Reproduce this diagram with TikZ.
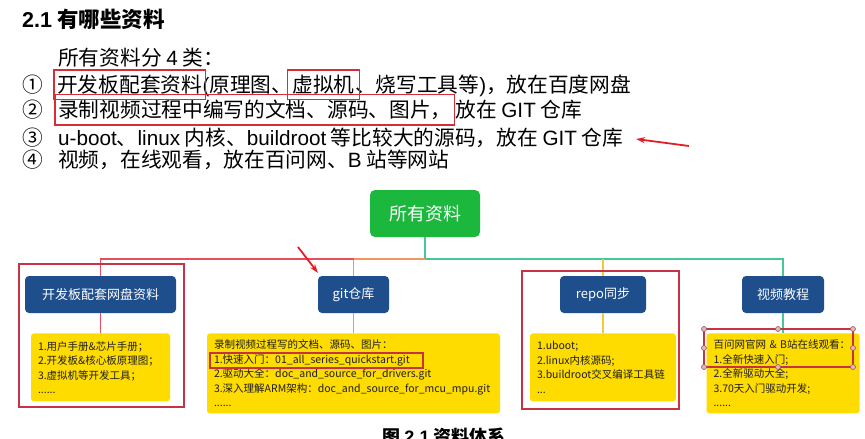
\documentclass[tikz,border=0pt]{standalone}
\usepackage{fontspec}
\setmainfont{Noto Sans CJK SC}
\newfontfamily\latin{Liberation Sans}
\usepackage{xcolor}
\usepackage{tikz}
\usetikzlibrary{positioning, arrows.meta, fit}

\definecolor{rootgreen}{RGB}{28,184,62}
\definecolor{nodeblue}{RGB}{30,78,140}
\definecolor{noteyellow}{RGB}{255,220,0}
\definecolor{markred}{RGB}{215,45,55}
\definecolor{framered}{RGB}{200,50,70}
\definecolor{pointred}{RGB}{225,30,40}
\definecolor{brred}{RGB}{232,78,92}
\definecolor{brorange}{RGB}{242,150,95}
\definecolor{bryellow}{RGB}{245,200,60}
\definecolor{brteal}{RGB}{70,200,150}
\definecolor{textgray}{RGB}{30,30,30}
\definecolor{handlered}{RGB}{160,80,90}
\definecolor{handlefill}{RGB}{225,185,185}

\begin{document}
\begin{tikzpicture}[x=1pt,y=-1pt,
    bodytext/.style={anchor=base west,inner sep=0pt,font=\fontsize{20.7}{24}\selectfont},
    markbox/.style={draw=markred,line width=1.2pt,inner xsep=3pt,inner ysep=5pt},
    rootbox/.style={rectangle,rounded corners=5pt,fill=rootgreen,text=white,minimum width=110pt,minimum height=47pt,font=\fontsize{18}{18}\selectfont},
    topic/.style={rectangle,rounded corners=4pt,fill=nodeblue,text=white,minimum height=37pt,font=\fontsize{13}{13}\selectfont},
    note/.style={rectangle,rounded corners=3pt,fill=noteyellow,text=textgray,align=left,inner xsep=7pt,inner ysep=0pt,font=\fontsize{10.5}{14.5}\selectfont},
    link/.style={line width=1.6pt},
    frame/.style={draw=framered,line width=1.2pt},
    pointer/.style={draw=pointred,line width=1.8pt,-{Stealth[length=9pt,width=6pt]}},
    handle/.style={draw=handlered,fill=handlefill,line width=0.6pt}]
    \path[use as bounding box,fill=white] (0,0) rectangle (865,439);

    \node[anchor=west,inner sep=0pt,font=\bfseries\fontsize{21.5}{21.5}\selectfont] (title) at (22,19) {{\latin\bfseries 2.1} 有哪些资料};

    \node[bodytext] (intro) at (58,65.6) {所有资料分 {\latin 4} 类：};

    \node[bodytext] (c1) at (22,92.6) {①};
    \node[bodytext] (l1a) at (57,92.6) {开发板配套资料};
    \node[bodytext] (l1b) at (l1a.base east) {{\latin (}原理图、};
    \node[bodytext] (l1c) at (l1b.base east) {虚拟机};
    \node[bodytext] (l1d) at (l1c.base east) {、烧写工具等{\latin )}，放在百度网盘};

    \node[bodytext] (c2) at (22,117.6) {②};
    \node[bodytext] (l2a) at (58,117.6) {录制视频过程中编写的文档、源码、图片，};
    \node[bodytext] (l2b) at (l2a.base east) {\,放在 {\latin GIT} 仓库};

    \node[bodytext] (c3) at (22,145.6) {③};
    \node[bodytext] (l3) at (58,145.6) {{\latin u-boot}、{\latin linux} 内核、{\latin buildroot} 等比较大的源码，放在 {\latin GIT} 仓库};

    \node[bodytext] (c4) at (22,167.6) {④};
    \node[bodytext] (l4) at (58,167.6) {视频，在线观看，放在百问网、{\latin B} 站等网站};

    \node[markbox,fit=(l1a)] (m1) {};
    \node[markbox,fit=(l1c),inner xsep=5pt] (m2) {};
    \node[markbox,fit=(l2a)] (m3) {};

    \node[rootbox] (root) at (425,213.5) {所有资料};

    \node[topic,minimum width=151pt] (n1) at (100.5,294.5) {开发板配套网盘资料};
    \node[topic,minimum width=71pt] (n2) at (353.5,294.5) {git仓库};
    \node[topic,minimum width=86pt] (n3) at (603,294.5) {repo同步};
    \node[topic,minimum width=82pt] (n4) at (783,294.5) {视频教程};

    \node[note,below=20pt of n1,minimum width=139pt,text width=125pt,minimum height=68pt] (d1)
        {1.用户手册\&芯片手册；\\2.开发板\&核心板原理图；\\3.虚拟机等开发工具；\\......};
    \node[note,below=20pt of n2,minimum width=293pt,text width=279pt,minimum height=80pt] (d2)
        {录制视频过程写的文档、源码、图片：\\1.快速入门：01\_all\_series\_quickstart.git\\2.驱动大全：doc\_and\_source\_for\_drivers.git\\3.深入理解ARM架构：doc\_and\_source\_for\_mcu\_mpu.git\\......};
    \node[note,below=20pt of n3,minimum width=146pt,text width=132pt,minimum height=68pt] (d3)
        {1.uboot;\\2.linux内核源码;\\3.buildroot交叉编译工具链\\...};
    \node[note,below=20pt of n4,minimum width=153pt,text width=139pt,minimum height=80pt] (d4)
        {百问网官网 \& B站在线观看：\\1.全新快速入门;\\2.全新驱动大全;\\3.70天入门驱动开发;\\......};

    \coordinate (bar) at (0,259);
    \draw[link,brteal] (root.south) -- (root.south |- bar) -| (n4.north);
    \draw[link,brorange] (root.south |- bar) -| (n2.north);
    \draw[link,brred] (n2.north |- bar) -| (n1.north);
    \draw[link,bryellow] (n3.north |- bar) -- (n3.north);
    \draw[link,brred] (n1.south) -- (d1.north);
    \draw[link,brorange] (n2.south) -- (d2.north);
    \draw[link,bryellow] (n3.south) -- (d3.north);
    \draw[link,brteal] (n4.south) -- (d4.north);

    \draw[frame] (19,264) rectangle (184,407);
    \draw[frame] (210,353) rectangle (423,368);
    \draw[frame] (522,271) rectangle (679,409);
    \draw[frame] (704,329) rectangle (853,367);
    \foreach \hx/\hy in {704/329,778/329,853/329,704/348,853/348,704/367,778/367,853/367}
        \draw[handle] (\hx,\hy) circle (2.5pt);

    \coordinate (tailA) at (689,146);
    \coordinate (tipA) at (636,139);
    \draw[pointer] (tailA) -- (tipA);
    \coordinate (tailB) at (298,247);
    \coordinate (tipB) at (318,273);
    \draw[pointer] (tailB) -- (tipB);

    \node[font=\bfseries\fontsize{18}{18}\selectfont] (cap) at (444,437) {图 {\latin\bfseries 2.1} 资料体系};
\end{tikzpicture}
\end{document}
